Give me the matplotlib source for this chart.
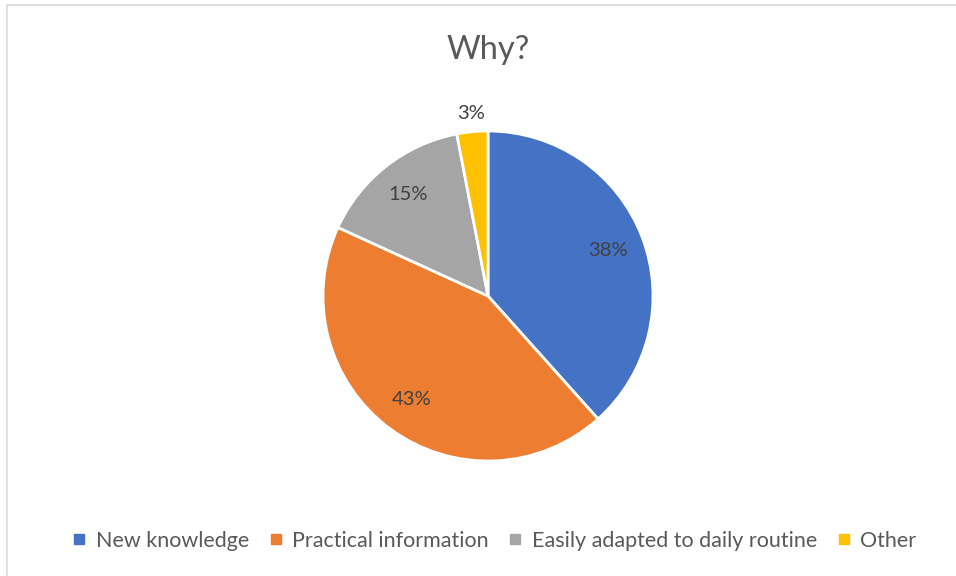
import matplotlib.pyplot as plt
from matplotlib.lines import Line2D
import numpy as np

categories = ['New knowledge', 'Practical information', 'Easily adapted to daily routine', 'Other']
values = [38, 43, 15, 3]
labels = ['38%', '43%', '15%', '3%']
colors = ['#4472C4', '#ED7D31', '#A5A5A5', '#FFC000']

plt.rcParams['font.family'] = ['Lato', 'DejaVu Sans']

fig = plt.figure(figsize=(9.56, 5.76), dpi=100)
W, H = 956, 576

# chart frame (only top and left edge visible)
fig.add_artist(Line2D([7 / W, 7 / W], [0, 1 - 4.5 / H], color='#D9D9D9', lw=1.2))
fig.add_artist(Line2D([7 / W, 1], [1 - 4.5 / H, 1 - 4.5 / H], color='#D9D9D9', lw=1.2))

cx, cy, r = 488, 296, 165
ax = fig.add_axes([(cx - r) / W, (H - cy - r) / H, 2 * r / W, 2 * r / H])
wedges, _ = ax.pie(values, colors=colors, startangle=90, counterclock=False,
                   wedgeprops=dict(edgecolor='white', linewidth=2))
ax.set_xlim(-1.0, 1.0)
ax.set_ylim(-1.0, 1.0)
ax.axis('off')

total = sum(values)
for v, lab, w in zip(values, labels, wedges):
    mid = np.deg2rad((w.theta1 + w.theta2) / 2)
    dist = 1.11 if v / total < 0.05 else 0.78
    ax.text(dist * np.cos(mid), dist * np.sin(mid), lab, ha='center', va='center',
            fontsize=14.5, color='#404040')

fig.text(cx / W, 1 - 50 / H, 'Why?', ha='center', va='center', fontsize=23.5, color='#595959')

handles = [Line2D([], [], marker='s', linestyle='none', markersize=6.5, color=c) for c in colors]
fig.legend(handles, categories, loc='center', bbox_to_anchor=(494 / W, 1 - 541 / H), ncol=4,
           frameon=False, fontsize=15.5, handlelength=0.7, handletextpad=0.4,
           columnspacing=0.9, labelcolor='#595959')

fig.savefig('out.png', dpi=100)
